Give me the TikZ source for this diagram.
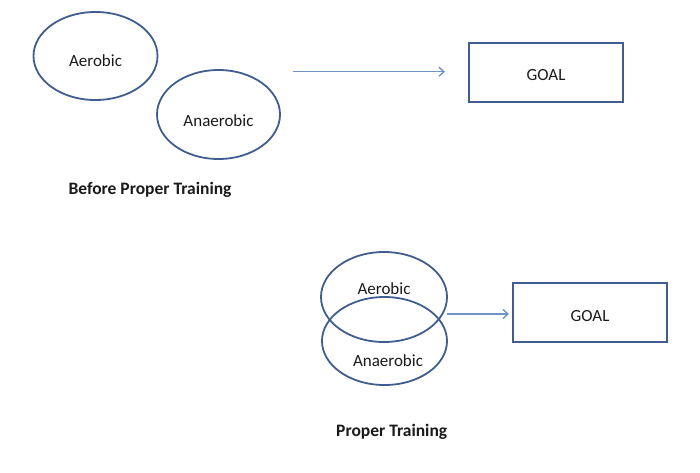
\documentclass[tikz,border=0pt]{standalone}
\usepackage{fontspec}
\setmainfont{Carlito}
\usetikzlibrary{shapes.geometric,arrows.meta}
\definecolor{edge}{HTML}{3F5E8F}
\definecolor{arr}{HTML}{6F93C4}
\definecolor{txt}{HTML}{1A1A1A}
\tikzset{
  oval/.style={ellipse, draw=edge, line width=1.8pt, inner sep=0pt},
  goalbox/.style={rectangle, draw=edge, line width=1.8pt, inner sep=0pt},
  lbl/.style={text=txt, font=\fontsize{17}{20}\selectfont, inner sep=0pt},
  caption/.style={text=txt, font=\bfseries\fontsize{17.5}{20}\selectfont, inner sep=0pt},
  link/.style={draw=arr, line width=1.5pt, -{Straight Barb[length=5pt,width=9pt,line width=1.4pt]}}
}
\begin{document}
\begin{tikzpicture}[x=1pt,y=-1pt]
\useasboundingbox (0,0) rectangle (700,472);
% top
\node[oval, minimum width=124pt, minimum height=88pt] (aer1) at (95.5,56) {};
\node[lbl] (aer1t) at (95.5,61) {Aerobic};
\node[oval, minimum width=123pt, minimum height=89pt] (ana1) at (218.5,114.5) {};
\node[lbl] (ana1t) at (218.5,121) {Anaerobic};
\node[caption] (cap1) at (150,190) {Before Proper Training};
\node[goalbox, minimum width=154pt, minimum height=59pt] (goal1) at (546,72.2) {};
\node[lbl] (goal1t) at (546,75) {GOAL};
\coordinate (s1) at (293,71.7);
\coordinate (e1) at (445,71.7);
\draw[link] (s1) -- (e1);
% bottom
\node[oval, minimum width=126pt, minimum height=90pt] (aer2) at (384,297) {};
\node[oval, minimum width=125pt, minimum height=88pt] (ana2) at (384.5,341) {};
\node[lbl] (aer2t) at (384,288.5) {Aerobic};
\node[lbl] (ana2t) at (388,360.5) {Anaerobic};
\node[goalbox, minimum width=154pt, minimum height=59pt] (goal2) at (590,312.2) {};
\node[lbl] (goal2t) at (590,316) {GOAL};
\coordinate (s2) at (447,314);
\coordinate (e2) at (509,314);
\draw[link] (s2) -- (e2);
\node[caption] (cap2) at (391.7,432) {Proper Training};
\end{tikzpicture}
\end{document}
